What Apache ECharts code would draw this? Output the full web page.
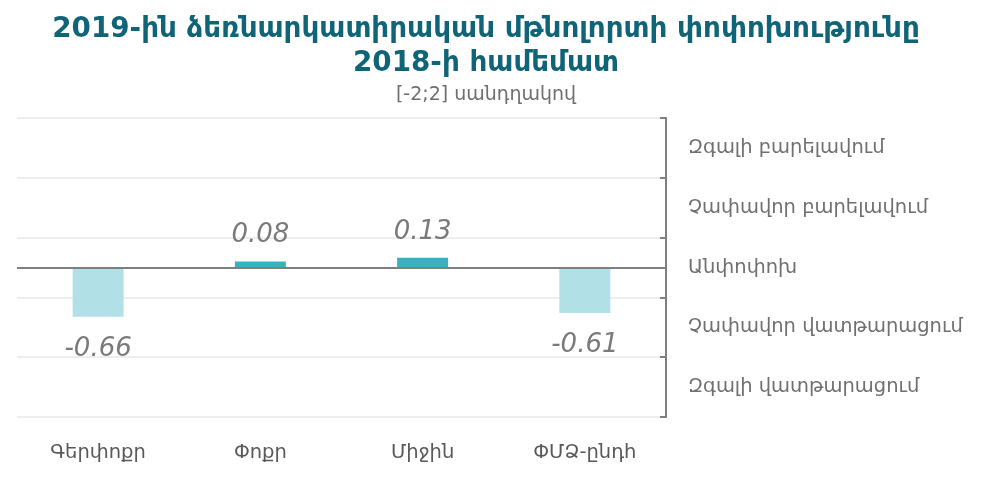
<!DOCTYPE html>
<html><head><meta charset="utf-8">
<script src="https://cdn.jsdelivr.net/npm/echarts@6/dist/echarts.min.js"></script>
<style>html,body{margin:0;padding:0;background:#fff}#c{width:986px;height:478px}</style>
</head><body><div id="c"></div>
<script>
const categories = ['Գերփոքր', 'Փոքր', 'Միջին', 'ՓՄՁ-ընդհ'];
const values = [-0.66, 0.08, 0.13, -0.61];
const scaleLabels = ['Զգալի վատթարացում', 'Չափավոր վատթարացում', 'Անփոփոխ', 'Չափավոր բարելավում', 'Զգալի բարելավում'];
const scaleLabelValues = [-1.6, -0.8, 0, 0.8, 1.6];
const titleText = '2019-ին ձեռնարկատիրական մթնոլորտի փոփոխությունը\n2018-ի համեմատ';
const subtitleText = '[-2;2] սանդղակով';

const chart = echarts.init(document.getElementById('c'));
const font = '"DejaVu Sans", sans-serif';
chart.setOption({
  animation: false,
  title: {
    text: titleText, subtext: subtitleText, left: 481, textAlign: 'center', top: 8,
    textStyle: {fontFamily: font, fontSize: 27.8, fontWeight: 'bold', color: '#0f6478', lineHeight: 34},
    subtextStyle: {fontFamily: font, fontSize: 19, color: '#6f6f6f'},
    itemGap: 5
  },
  grid: {left: 17, right: 320, top: 118, bottom: 61},
  xAxis: {
    type: 'category', data: categories,
    axisLine: {show: false}, axisTick: {show: false},
    axisLabel: {fontFamily: font, fontSize: 19.5, color: '#595959', margin: 26}
  },
  yAxis: [{
    type: 'value', position: 'right', min: -2, max: 2, interval: 0.8,
    axisLine: {show: true, lineStyle: {color: '#7f7f7f', width: 2}},
    axisTick: {show: true, inside: true, length: 6, lineStyle: {color: '#7f7f7f', width: 2}},
    splitLine: {show: true, lineStyle: {color: '#eeeeee', width: 2}},
    axisLabel: {
      show: true, customValues: scaleLabelValues, margin: 22,
      fontFamily: font, fontSize: 19.5, color: '#707070',
      formatter: v => { const i = scaleLabelValues.findIndex(x => Math.abs(x - v) < 1e-6); return i >= 0 ? scaleLabels[i] : ''; }
    }
  }],
  series: [{
    type: 'bar', data: values.map(v => ({value: v, itemStyle: {color: v < 0 ? '#b1e1e6' : '#3ab1c1'},
      label: {position: v < 0 ? 'bottom' : 'top', distance: v < 0 ? 19 : 13}})),
    barWidth: 51,
    label: {show: true, fontFamily: font, fontStyle: 'italic', fontSize: 26, color: '#7a7a7a',
      formatter: p => p.value.toFixed(2)},
    markLine: {silent: true, symbol: 'none', data: [{yAxis: 0}], label: {show: false},
      lineStyle: {color: '#7f7f7f', width: 2, type: 'solid'}}
  }]
});
</script></body></html>
